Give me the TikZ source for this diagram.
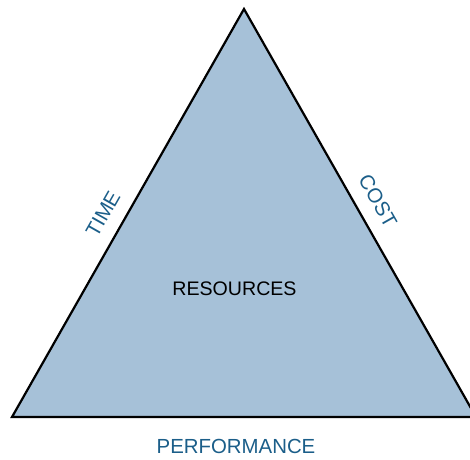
\documentclass[tikz,border=0pt]{standalone}
\usepackage{fontspec}
\setmainfont{Liberation Sans}
\definecolor{trifill}{HTML}{A6C1D8}
\definecolor{labelblue}{HTML}{1B5E89}
\begin{document}
\begin{tikzpicture}[x=1pt,y=1pt,
  sidelabel/.style={text=labelblue,font=\fontsize{20.4}{24}\selectfont,inner sep=0pt},
  centerlabel/.style={text=black,font=\fontsize{19.6}{23}\selectfont,inner sep=0pt}]
\useasboundingbox (0,0) rectangle (470,459);
\coordinate (top) at (244,450);
\coordinate (bl) at (12,42);
\coordinate (br) at (476,42);
\draw[fill=trifill,line width=2.2pt,line join=miter] (top) -- (bl) -- (br) -- cycle;
\node[centerlabel] (res) at (234.5,170) {RESOURCES};
\node[sidelabel] (perf) at (236,13) {PERFORMANCE};
\node[sidelabel,rotate=60.4] (time) at (103,245) {TIME};
\node[sidelabel,rotate=-60.4] (cost) at (378,258) {COST};
\end{tikzpicture}
\end{document}
